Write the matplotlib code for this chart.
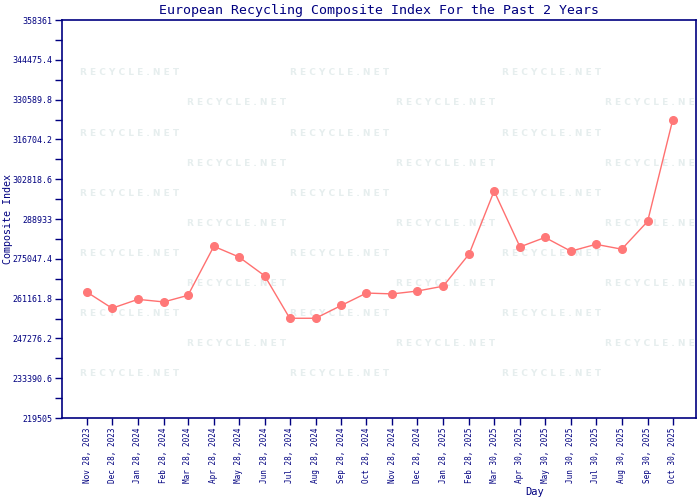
import matplotlib
matplotlib.use("Agg")
import matplotlib.pyplot as plt
import numpy as np
import pandas as pd

dates = ["2023-11-28", "2023-12-28", "2024-01-28", "2024-02-28", "2024-03-28",
         "2024-04-28", "2024-05-28", "2024-06-28", "2024-07-28", "2024-08-28",
         "2024-09-28", "2024-10-28", "2024-11-28", "2024-12-28", "2025-01-28",
         "2025-02-28", "2025-03-30", "2025-04-30", "2025-05-30", "2025-06-30",
         "2025-07-30", "2025-08-30", "2025-09-30", "2025-10-30"]
values = [263400, 257800, 260900, 260000, 262300,
          279400, 275700, 269100, 254300, 254300,
          258800, 263100, 262800, 263800, 265500,
          276700, 298700, 279200, 282500, 277700,
          280100, 278400, 288100, 323400]
y_ticks = [219505, 233390.6, 247276.2, 261161.8, 275047.4, 288933,
           302818.6, 316704.2, 330589.8, 344475.4, 358361]
y_labels = ["219505", "233390.6", "247276.2", "261161.8", "275047.4", "288933",
            "302818.6", "316704.2", "330589.8", "344475.4", "358361"]

navy = "#000080"
plt.rcParams['font.family'] = ['DejaVu Sans Mono']

x = pd.to_datetime(dates)
fig = plt.figure(figsize=(7, 5), dpi=100)
ax = fig.add_axes([62 / 700, 1 - 418 / 500, 634 / 700, 398 / 500])

# watermark grid (the right column is cut by the frame, as in the original)
for row in range(11):
    yy = 1 - (73 + row * 30 - 20) / 398
    cols = [130, 340, 552] if row % 2 == 0 else [237, 446, 655]
    for cx in cols:
        ax.text((cx - 62) / 634, yy, "R E C Y C L E . N E T", transform=ax.transAxes,
                ha="center", va="center", fontsize=6.5, fontweight="bold",
                color="#e6eeee", family="DejaVu Sans", zorder=0, clip_on=True)

ax.plot(x, values, color="#ff7070", lw=1, marker="o", ms=5.5,
        markerfacecolor="#ff7878", markeredgecolor="#ff7878", zorder=3)

ax.set_xlim(pd.Timestamp("2023-10-29"), pd.Timestamp("2025-11-27"))
ax.set_ylim(y_ticks[0], y_ticks[-1])
ax.set_yticks(y_ticks)
ax.set_yticklabels(y_labels)
ax.set_yticks([(a + b) / 2 for a, b in zip(y_ticks[:-1], y_ticks[1:])], minor=True)
ax.set_xticks(x)
ax.set_xticklabels([d.strftime("%b %d, %Y") for d in x], rotation=90)

ax.tick_params(axis="both", colors=navy, labelcolor=navy,
               direction="out", length=5, width=1)
ax.tick_params(axis="x", labelsize=5.5, pad=2)
ax.tick_params(axis="y", labelsize=6, pad=2)
ax.tick_params(axis="y", which="minor", colors=navy, direction="out", length=5, width=1)
for s in ax.spines.values():
    s.set_color(navy)
    s.set_linewidth(1.2)

ax.set_title("European Recycling Composite Index For the Past 2 Years",
             color=navy, fontsize=9.5, pad=4)
ax.set_ylabel("Composite Index", color=navy, fontsize=7.2)
ax.yaxis.set_label_coords(-(62 - 13) / 634, 0.5)
ax.set_xlabel("Day", color=navy, fontsize=7.5)
ax.xaxis.set_label_coords((535 - 62) / 634, -(487 - 418) / 398)

fig.savefig("out.png", dpi=100)
